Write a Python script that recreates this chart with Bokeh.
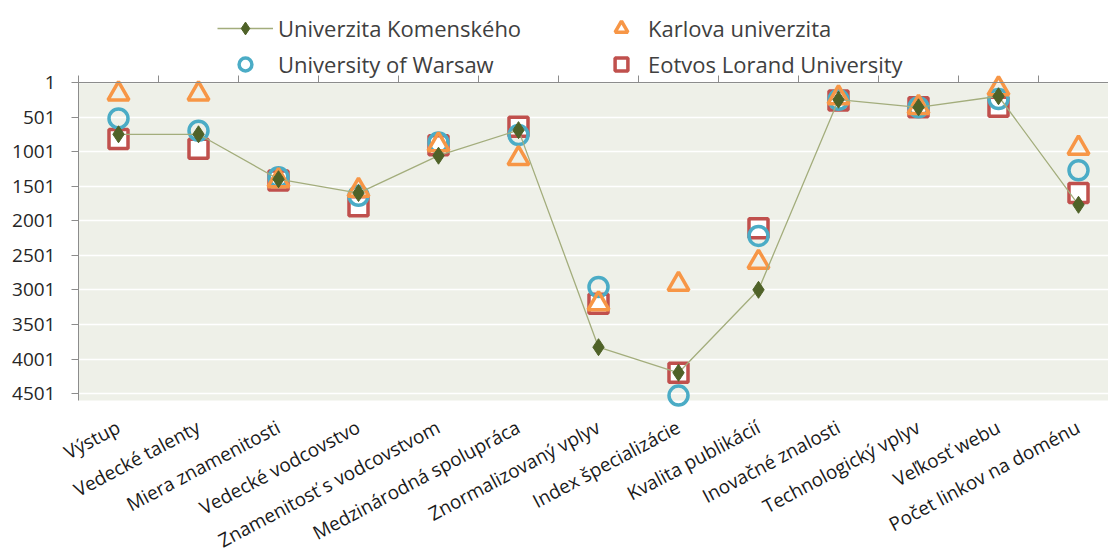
from bokeh.plotting import figure
from bokeh.models import (Range1d, LinearAxis, FixedTicker, Legend, LegendItem, BoxAnnotation)
from bokeh.embed import file_html
from bokeh.resources import INLINE
import math

categories = ["Výstup", "Vedecké talenty", "Miera znamenitosti", "Vedecké vodcovstvo",
              "Znamenitosť s vodcovstvom", "Medzinárodná spolupráca", "Znormalizovaný vplyv",
              "Index špecializácie", "Kvalita publikácií", "Inovačné znalosti",
              "Technologický vplyv", "Veľkosť webu", "Počet linkov na doménu"]

komensky = [750, 750, 1400, 1600, 1060, 690, 3830, 4200, 3000, 250, 360, 200, 1770]
karlova = [165, 165, 1420, 1560, 900, 1100, 3200, 2920, 2600, 220, 360, 90, 950]
warsaw = [520, 700, 1370, 1640, 870, 760, 2960, 4530, 2220, 250, 360, 240, 1270]
eotvos = [820, 960, 1420, 1790, 910, 640, 3200, 4200, 2110, 260, 360, 350, 1600]

y_ticks = [1, 501, 1001, 1501, 2001, 2501, 3001, 3501, 4001, 4501]
y_min, y_max = 1, 4601

xs = list(range(len(categories)))

FONT = "Open Sans"

# layout in pixels
W, H = 1108, 559
LEFT = 78            # left edge of plotting area
AREA_TOP, AREA_BOTTOM = 82, 400   # pixel rows of rank 1 and of the bottom of the area
CAT_W = 80
upp = (y_max - y_min) / (AREA_BOTTOM - AREA_TOP)   # rank units per pixel
y_top = y_min - AREA_TOP * upp
y_bot = y_max + (H - AREA_BOTTOM) * upp
x_left = -0.5 - LEFT / CAT_W
x_right = -0.5 + (W - LEFT) / CAT_W

p = figure(width=W, height=H, output_backend="svg", toolbar_location=None,
           x_range=Range1d(x_left, x_right), y_range=Range1d(y_bot, y_top),
           x_axis_location=None, y_axis_location=None,
           min_border_left=0, min_border_right=0, min_border_top=0, min_border_bottom=0)
p.outline_line_color = None
p.background_fill_color = "white"
p.border_fill_color = "white"

# plot area background (only the value region)
p.add_layout(BoxAnnotation(top=y_min, bottom=y_max, left=-0.5, fill_color="#eef0e8",
                           fill_alpha=1, line_color=None, level="image"))

# left axis (ranks)
yax = LinearAxis(ticker=FixedTicker(ticks=y_ticks), bounds=(y_min, y_max), fixed_location=-0.5)
yax.axis_line_color = "#8c8c8c"
yax.major_tick_line_color = "#8c8c8c"
yax.major_tick_out = 7
yax.major_tick_in = 0
yax.minor_tick_line_color = None
yax.major_label_text_font = FONT
yax.major_label_text_font_size = "19px"
yax.major_label_text_color = "#262626"
yax.major_label_standoff = 16
p.add_layout(yax, "left")

# top axis line (crossing at rank 1) with category boundary ticks
bounds_ticks = [i - 0.5 for i in range(len(categories) + 1)]
tax = LinearAxis(ticker=FixedTicker(ticks=bounds_ticks),
                 fixed_location=y_min, bounds=(-0.5, x_right),
                 major_label_overrides={t: "" for t in bounds_ticks})
tax.axis_line_color = "#8c8c8c"
tax.major_tick_line_color = "#8c8c8c"
tax.major_tick_out = 7
tax.major_tick_in = 0
tax.minor_tick_line_color = None
tax.major_label_standoff = 0
p.add_layout(tax, "above")

# category labels, rotated, under the area
bax = LinearAxis(ticker=FixedTicker(ticks=xs), fixed_location=y_max,
                 major_label_overrides={i: c for i, c in enumerate(categories)})
bax.axis_line_color = None
bax.major_tick_line_color = None
bax.minor_tick_line_color = None
bax.major_label_orientation = math.radians(28)
bax.major_label_text_font = FONT
bax.major_label_text_font_size = "19px"
bax.major_label_text_color = "#1a1a1a"
bax.major_label_standoff = 19
p.add_layout(bax, "below")

# grid
p.xgrid.grid_line_color = None
p.ygrid.ticker = FixedTicker(ticks=y_ticks)
p.ygrid.grid_line_color = "white"
p.ygrid.grid_line_width = 1.5

# series (squares first so they sit beneath)
r_eo = p.scatter(xs, eotvos, marker="square", size=19, line_color="#c0504d",
                 line_width=3.5, fill_color="white")
r_wa = p.scatter(xs, warsaw, marker="circle", size=19, line_color="#4bacc6",
                 line_width=3.5, fill_color=None)
r_ka = p.scatter(xs, karlova, marker="triangle", size=21, line_color="#f79646",
                 line_width=3.5, fill_color=None)
r_kl = p.line(xs, komensky, line_color="#a3ad7c", line_width=1.3)
r_km = p.scatter(xs, komensky, marker="diamond", size=17, line_color="#4f6228",
                 fill_color="#4f6228")

leg_y = H - 80
leg1 = Legend(items=[LegendItem(label="Univerzita Komenského", renderers=[r_kl, r_km]),
                     LegendItem(label="University of Warsaw", renderers=[r_wa])],
              location=(217, leg_y))
leg2 = Legend(items=[LegendItem(label="Karlova univerzita", renderers=[r_ka]),
                     LegendItem(label="Eotvos Lorand University", renderers=[r_eo])],
              location=(604, leg_y))
for lg, gw, st in ((leg1, 56, 5), (leg2, 34, 10)):
    lg.glyph_width = gw
    lg.glyph_height = 32
    lg.label_standoff = st
    lg.label_text_font = FONT
    lg.label_text_font_size = "22px"
    lg.label_text_color = "#404040"
    lg.spacing = 4
    lg.padding = 0
    lg.margin = 0
    lg.border_line_color = None
    lg.background_fill_color = None
    lg.background_fill_alpha = 0
    p.add_layout(lg)

open("out.html", "w").write(file_html(p, INLINE))
